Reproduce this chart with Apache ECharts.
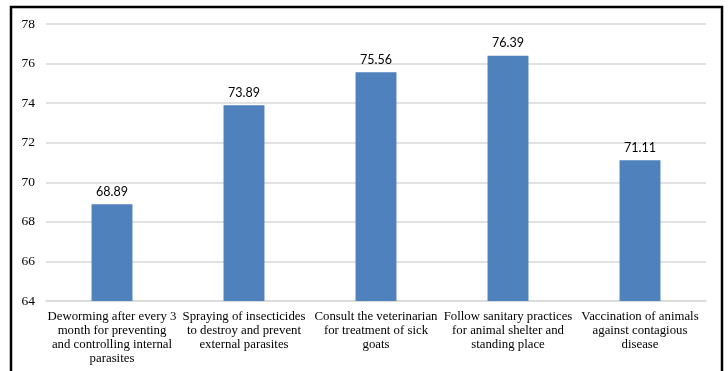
<!DOCTYPE html>
<html><head><meta charset="utf-8">
<script src="https://cdn.jsdelivr.net/npm/echarts@6/dist/echarts.min.js"></script>
<style>html,body{margin:0;padding:0;background:#fff}#c{width:728px;height:371px}</style>
</head><body><div id="c"></div>
<script>
const categories = [
  "Deworming after every 3\nmonth for preventing\nand controlling internal\nparasites",
  "Spraying of insecticides\nto destroy and prevent\nexternal parasites",
  "Consult the veterinarian\nfor treatment of sick\ngoats",
  "Follow sanitary practices\nfor animal shelter and\nstanding place",
  "Vaccination of animals\nagainst contagious\ndisease"
];
const values = [68.89, 73.89, 75.56, 76.39, 71.11];
const yMin = 64, yMax = 78, yStep = 2;

const chart = echarts.init(document.getElementById('c'), null, {renderer:'canvas'});
chart.setOption({
  animation:false,
  backgroundColor:'#fff',
  grid:{left:46,right:22,top:24,bottom:70,containLabel:false},
  xAxis:{type:'category',data:categories,
    axisLine:{lineStyle:{color:'#d9d9d9',width:1.5}},
    axisTick:{show:false},
    axisLabel:{interval:0,fontFamily:'Liberation Serif',fontSize:12.8,color:'#000',lineHeight:14,margin:9}
  },
  yAxis:{type:'value',min:yMin,max:yMax,interval:yStep,
    axisLine:{show:false},axisTick:{show:false},
    splitLine:{lineStyle:{color:'#d9d9d9',width:1.5}},
    axisLabel:{fontFamily:'Liberation Serif',fontSize:13.5,color:'#000',margin:11}
  },
  series:[{type:'bar',data:values,barWidth:'31%',
    itemStyle:{color:'#4F81BD'},
    label:{show:true,position:'top',distance:6,fontFamily:'Lato',fontSize:12.5,color:'#000',
      formatter:p=>p.value.toFixed(2)}
  }],
  graphic:[{type:'rect',shape:{x:11,y:7,width:711,height:420},
    style:{fill:null,stroke:'#000',lineWidth:2.5},silent:true}]
});
</script></body></html>
